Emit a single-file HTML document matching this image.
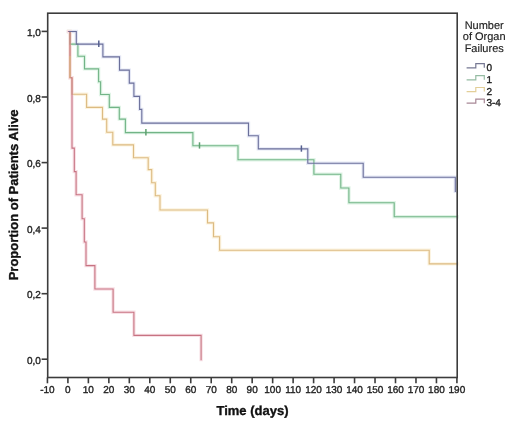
<!DOCTYPE html>
<html><head><meta charset="utf-8"><style>
html,body{margin:0;padding:0;background:#fff;}
body{width:520px;height:427px;overflow:hidden;position:relative;}
svg{display:block;}
svg.m{filter:blur(0.3px);}
svg.t{position:absolute;left:0;top:0;filter:grayscale(1) blur(0.3px);}
text{-webkit-font-smoothing:antialiased;text-rendering:geometricPrecision;font-family:"Liberation Sans",sans-serif;fill:#2b2b2b;}
.tk{font-size:10px;fill:#222;stroke:#222;stroke-width:0.35px;}
.lg{font-size:11px;fill:#222;stroke:#222;stroke-width:0.15px;}
.ttl{font-size:13px;font-weight:bold;fill:#111;stroke:#111;stroke-width:0.35px;}
</style></head><body>
<svg class="m" width="520" height="427" viewBox="0 0 520 427">
<rect width="520" height="427" fill="#fff"/>
<line x1="41.6" y1="31.4" x2="47.7" y2="31.4" stroke="#3c3c3c" stroke-width="1.6"/>
<line x1="41.6" y1="97.0" x2="47.7" y2="97.0" stroke="#3c3c3c" stroke-width="1.6"/>
<line x1="41.6" y1="162.6" x2="47.7" y2="162.6" stroke="#3c3c3c" stroke-width="1.6"/>
<line x1="41.6" y1="228.1" x2="47.7" y2="228.1" stroke="#3c3c3c" stroke-width="1.6"/>
<line x1="41.6" y1="293.7" x2="47.7" y2="293.7" stroke="#3c3c3c" stroke-width="1.6"/>
<line x1="41.6" y1="359.2" x2="47.7" y2="359.2" stroke="#3c3c3c" stroke-width="1.6"/>
<line x1="47.43" y1="377.5" x2="47.43" y2="383.3" stroke="#3c3c3c" stroke-width="1.6"/>
<line x1="67.90" y1="377.5" x2="67.90" y2="383.3" stroke="#3c3c3c" stroke-width="1.6"/>
<line x1="88.38" y1="377.5" x2="88.38" y2="383.3" stroke="#3c3c3c" stroke-width="1.6"/>
<line x1="108.85" y1="377.5" x2="108.85" y2="383.3" stroke="#3c3c3c" stroke-width="1.6"/>
<line x1="129.32" y1="377.5" x2="129.32" y2="383.3" stroke="#3c3c3c" stroke-width="1.6"/>
<line x1="149.80" y1="377.5" x2="149.80" y2="383.3" stroke="#3c3c3c" stroke-width="1.6"/>
<line x1="170.28" y1="377.5" x2="170.28" y2="383.3" stroke="#3c3c3c" stroke-width="1.6"/>
<line x1="190.75" y1="377.5" x2="190.75" y2="383.3" stroke="#3c3c3c" stroke-width="1.6"/>
<line x1="211.22" y1="377.5" x2="211.22" y2="383.3" stroke="#3c3c3c" stroke-width="1.6"/>
<line x1="231.70" y1="377.5" x2="231.70" y2="383.3" stroke="#3c3c3c" stroke-width="1.6"/>
<line x1="252.17" y1="377.5" x2="252.17" y2="383.3" stroke="#3c3c3c" stroke-width="1.6"/>
<line x1="272.65" y1="377.5" x2="272.65" y2="383.3" stroke="#3c3c3c" stroke-width="1.6"/>
<line x1="293.12" y1="377.5" x2="293.12" y2="383.3" stroke="#3c3c3c" stroke-width="1.6"/>
<line x1="313.60" y1="377.5" x2="313.60" y2="383.3" stroke="#3c3c3c" stroke-width="1.6"/>
<line x1="334.08" y1="377.5" x2="334.08" y2="383.3" stroke="#3c3c3c" stroke-width="1.6"/>
<line x1="354.55" y1="377.5" x2="354.55" y2="383.3" stroke="#3c3c3c" stroke-width="1.6"/>
<line x1="375.02" y1="377.5" x2="375.02" y2="383.3" stroke="#3c3c3c" stroke-width="1.6"/>
<line x1="395.50" y1="377.5" x2="395.50" y2="383.3" stroke="#3c3c3c" stroke-width="1.6"/>
<line x1="415.98" y1="377.5" x2="415.98" y2="383.3" stroke="#3c3c3c" stroke-width="1.6"/>
<line x1="436.45" y1="377.5" x2="436.45" y2="383.3" stroke="#3c3c3c" stroke-width="1.6"/>
<line x1="456.92" y1="377.5" x2="456.92" y2="383.3" stroke="#3c3c3c" stroke-width="1.6"/>
<path d="M68.5,31.5 H70 V44.1 H77.9 V56.2 H84.5 V68.9 H98.6 V81.8 H100.6 V94.5 H109.3 V107.4 H119.3 V119.1 H125.4 V132.6 H192.9 V145.8 H238 V159.8 H313.9 V174.2 H340.8 V188 H348.9 V202.8 H394.2 V216.8 H457" fill="none" stroke="#e0f4e6" stroke-width="3.4" stroke-linejoin="miter" stroke-linecap="square"/>
<path d="M68.5,31.5 H76.3 V44.1 H102.9 V56.9 H119.5 V70.1 H129.3 V83.1 H133.9 V96.4 H139.6 V109.4 H141.8 V123.1 H248.5 V135.8 H258.3 V148.9 H307.8 V163.3 H363.2 V177.3 H455.3 V191.4" fill="none" stroke="#e6e9f6" stroke-width="3.4" stroke-linejoin="miter" stroke-linecap="square"/>
<path d="M68.5,31.5 H70 V77.8 H72 V94.3 H86.6 V107.4 H102.5 V119.1 H106.7 V132.2 H112.8 V144.9 H133.5 V157.8 H148.2 V169.6 H151.7 V182.8 H155.3 V195.8 H160 V210 H207.5 V222.9 H213.5 V236.8 H219.6 V250.2 H429.2 V263.9 H457" fill="none" stroke="#fcf3df" stroke-width="3.4" stroke-linejoin="miter" stroke-linecap="square"/>
<path d="M68.5,31.5 H70 V77.8 H72 V148.1 H74.3 V171.6 H76.1 V194.8 H82.1 V218.8 H84.3 V242 H86 V265.6 H94.9 V289 H113.1 V312.3 H133.9 V335.4 H201.1 V359.6" fill="none" stroke="#f8e1e6" stroke-width="3.4" stroke-linejoin="miter" stroke-linecap="square"/>
<path d="M68.5,31.5 H70 V44.1 H77.9 V56.2 H84.5 V68.9 H98.6 V81.8 H100.6 V94.5 H109.3 V107.4 H119.3 V119.1 H125.4 V132.6 H192.9 V145.8 H238 V159.8 H313.9 V174.2 H340.8 V188 H348.9 V202.8 H394.2 V216.8 H457" fill="none" stroke="#72b487" stroke-width="1.1" stroke-linejoin="miter" stroke-linecap="square"/>
<path d="M68.5,31.5 H76.3 V44.1 H102.9 V56.9 H119.5 V70.1 H129.3 V83.1 H133.9 V96.4 H139.6 V109.4 H141.8 V123.1 H248.5 V135.8 H258.3 V148.9 H307.8 V163.3 H363.2 V177.3 H455.3 V191.4" fill="none" stroke="#6b6f9a" stroke-width="1.1" stroke-linejoin="miter" stroke-linecap="square"/>
<path d="M68.5,31.5 H70 V77.8 H72 V94.3 H86.6 V107.4 H102.5 V119.1 H106.7 V132.2 H112.8 V144.9 H133.5 V157.8 H148.2 V169.6 H151.7 V182.8 H155.3 V195.8 H160 V210 H207.5 V222.9 H213.5 V236.8 H219.6 V250.2 H429.2 V263.9 H457" fill="none" stroke="#dcbb82" stroke-width="1.1" stroke-linejoin="miter" stroke-linecap="square"/>
<path d="M68.5,31.5 H70 V77.8 H72 V148.1 H74.3 V171.6 H76.1 V194.8 H82.1 V218.8 H84.3 V242 H86 V265.6 H94.9 V289 H113.1 V312.3 H133.9 V335.4 H201.1 V359.6" fill="none" stroke="#c77382" stroke-width="1.1" stroke-linejoin="miter" stroke-linecap="square"/>
<path d="M70,56 V77.8" fill="none" stroke="#dcbb82" stroke-width="1.1"/>
<path d="M68.5,31.5 H76.3" fill="none" stroke="#6b6f9a" stroke-width="1.1"/>
<line x1="145.9" y1="129.1" x2="145.9" y2="135.4" stroke="#5f9f70" stroke-width="1.5"/>
<line x1="199.5" y1="142.3" x2="199.5" y2="148.60000000000002" stroke="#5f9f70" stroke-width="1.5"/>
<line x1="98.8" y1="40.6" x2="98.8" y2="46.9" stroke="#56608f" stroke-width="1.5"/>
<line x1="301.4" y1="145.4" x2="301.4" y2="151.70000000000002" stroke="#56608f" stroke-width="1.5"/>
<rect x="47.7" y="13.2" width="409.5" height="364.3" fill="none" stroke="#3c3c3c" stroke-width="1.6"/>
<path d="M466.6,67.8 H475.8 V63.7 H484.3 V67.8" fill="none" stroke="#767893" stroke-width="1.2"/>
<path d="M466.6,79.8 H475.8 V75.7 H484.3 V79.8" fill="none" stroke="#95bca3" stroke-width="1.2"/>
<path d="M466.6,91.6 H475.8 V87.5 H484.3 V91.6" fill="none" stroke="#e3cf98" stroke-width="1.2"/>
<path d="M466.6,103.2 H475.8 V99.1 H484.3 V103.2" fill="none" stroke="#a88896" stroke-width="1.2"/>
</svg>
<svg class="t" width="520" height="427" viewBox="0 0 520 427">
<text x="40.9" y="36.1" text-anchor="end" class="tk">1,0</text>
<text x="40.9" y="101.7" text-anchor="end" class="tk">0,8</text>
<text x="40.9" y="167.29999999999998" text-anchor="end" class="tk">0,6</text>
<text x="40.9" y="232.79999999999998" text-anchor="end" class="tk">0,4</text>
<text x="40.9" y="298.4" text-anchor="end" class="tk">0,2</text>
<text x="40.9" y="363.9" text-anchor="end" class="tk">0,0</text>
<text x="47.43" y="393.3" text-anchor="middle" class="tk">-10</text>
<text x="67.90" y="393.3" text-anchor="middle" class="tk">0</text>
<text x="88.38" y="393.3" text-anchor="middle" class="tk">10</text>
<text x="108.85" y="393.3" text-anchor="middle" class="tk">20</text>
<text x="129.32" y="393.3" text-anchor="middle" class="tk">30</text>
<text x="149.80" y="393.3" text-anchor="middle" class="tk">40</text>
<text x="170.28" y="393.3" text-anchor="middle" class="tk">50</text>
<text x="190.75" y="393.3" text-anchor="middle" class="tk">60</text>
<text x="211.22" y="393.3" text-anchor="middle" class="tk">70</text>
<text x="231.70" y="393.3" text-anchor="middle" class="tk">80</text>
<text x="252.17" y="393.3" text-anchor="middle" class="tk">90</text>
<text x="272.65" y="393.3" text-anchor="middle" class="tk">100</text>
<text x="293.12" y="393.3" text-anchor="middle" class="tk">110</text>
<text x="313.60" y="393.3" text-anchor="middle" class="tk">120</text>
<text x="334.08" y="393.3" text-anchor="middle" class="tk">130</text>
<text x="354.55" y="393.3" text-anchor="middle" class="tk">140</text>
<text x="375.02" y="393.3" text-anchor="middle" class="tk">150</text>
<text x="395.50" y="393.3" text-anchor="middle" class="tk">160</text>
<text x="415.98" y="393.3" text-anchor="middle" class="tk">170</text>
<text x="436.45" y="393.3" text-anchor="middle" class="tk">180</text>
<text x="456.92" y="393.3" text-anchor="middle" class="tk">190</text>
<text x="252.5" y="415.3" text-anchor="middle" class="ttl">Time (days)</text>
<text transform="translate(17.7,195) rotate(-90)" x="0" y="0" text-anchor="middle" class="ttl">Proportion of Patients Alive</text>
<text x="484.2" y="29.00" text-anchor="middle" class="lg">Number</text>
<text x="484.2" y="40.45" text-anchor="middle" class="lg">of Organ</text>
<text x="484.2" y="51.90" text-anchor="middle" class="lg">Failures</text>
<text x="486.4" y="71.0" class="tk">0</text>
<text x="486.4" y="83.0" class="tk">1</text>
<text x="486.4" y="94.8" class="tk">2</text>
<text x="486.4" y="106.4" class="tk">3-4</text>
</svg>
</body></html>
